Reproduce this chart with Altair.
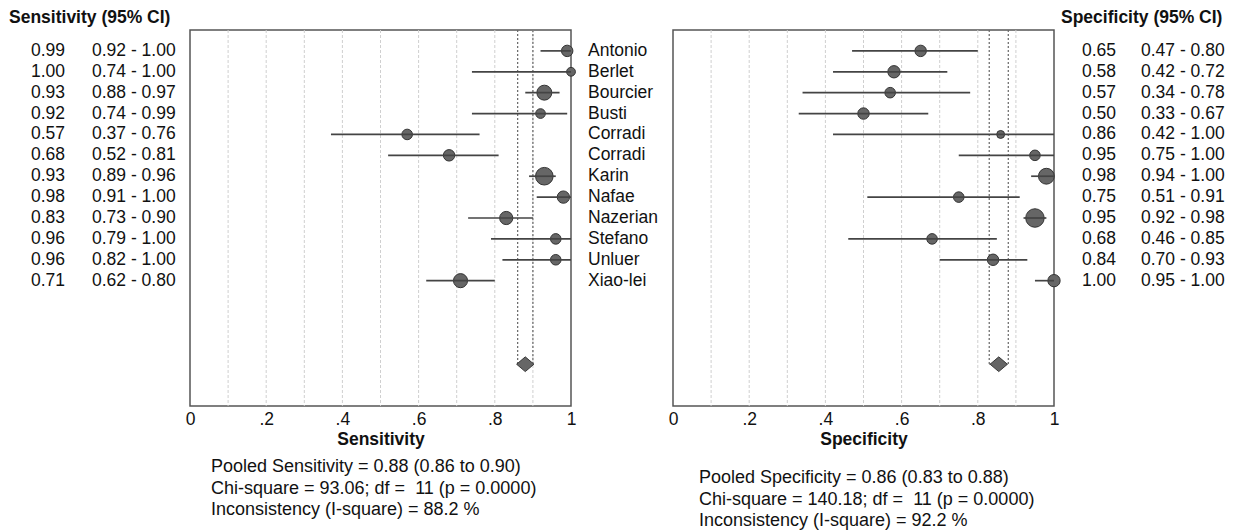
import altair as alt
import pandas as pd

studies = ["Antonio", "Berlet", "Bourcier", "Busti", "Corradi", "Corradi",
           "Karin", "Nafae", "Nazerian", "Stefano", "Unluer", "Xiao-lei"]

sens = [0.99, 1.00, 0.93, 0.92, 0.57, 0.68, 0.93, 0.98, 0.83, 0.96, 0.96, 0.71]
sens_lo = [0.92, 0.74, 0.88, 0.74, 0.37, 0.52, 0.89, 0.91, 0.73, 0.79, 0.82, 0.62]
sens_hi = [1.00, 1.00, 0.97, 0.99, 0.76, 0.81, 0.96, 1.00, 0.90, 1.00, 1.00, 0.80]
sens_weight = [169, 100, 289, 121, 144, 169, 400, 196, 225, 144, 144, 256]

spec = [0.65, 0.58, 0.57, 0.50, 0.86, 0.95, 0.98, 0.75, 0.95, 0.68, 0.84, 1.00]
spec_lo = [0.47, 0.42, 0.34, 0.33, 0.42, 0.75, 0.94, 0.51, 0.92, 0.46, 0.70, 0.95]
spec_hi = [0.80, 0.72, 0.78, 0.67, 1.00, 1.00, 1.00, 0.91, 0.98, 0.85, 0.93, 1.00]
spec_weight = [169, 196, 144, 169, 81, 144, 324, 144, 441, 144, 169, 196]

pooled_sens = [0.88, 0.86, 0.90]
pooled_spec = [0.855, 0.83, 0.88]

grid_values = [0.1, 0.2, 0.3, 0.4, 0.5, 0.6, 0.7, 0.8, 0.9]
tick_values = [0, 0.2, 0.4, 0.6, 0.8, 1]

footer_sens = ["Pooled Sensitivity = 0.88 (0.86 to 0.90)",
               "Chi-square = 93.06; df = \u00a011 (p = 0.0000)",
               "Inconsistency (I-square) = 88.2 %"]
footer_spec = ["Pooled Specificity = 0.86 (0.83 to 0.88)",
               "Chi-square = 140.18; df = \u00a011 (p = 0.0000)",
               "Inconsistency (I-square) = 92.2 %"]

FONT = "Liberation Sans"
W, H = 381, 376
POOLED_ROW = 15

xscale = alt.Scale(domain=[0, 1], nice=False, zero=False)
yscale = alt.Scale(domain=[-1, 17], nice=False, zero=False, reverse=True)


def panel(est, lo, hi, weight, pooled, axis_title, header, footer, side):
    df = pd.DataFrame({
        "study": studies, "est": est, "lo": lo, "hi": hi, "w": weight,
        "row": list(range(len(studies))),
    })
    df["est_txt"] = [f"{v:.2f}" for v in est]
    df["ci_txt"] = [f"{a:.2f} - {b:.2f}" for a, b in zip(lo, hi)]

    xaxis = alt.Axis(values=tick_values, grid=False, domain=False, ticks=False,
                     labelFlush=False,
                     labelExpr="datum.value == 0 ? '0' : datum.value == 1 ? '1' : replace(format(datum.value, '.1f'), '0.', '.')",
                     labelFont=FONT, labelFontSize=17.5, labelColor="#111",
                     labelPadding=4, title=axis_title, titleFont=FONT,
                     titleFontSize=17.5, titleFontWeight="bold", titleColor="#111",
                     titlePadding=3)

    def X(field):
        return alt.X(field, type="quantitative", scale=xscale, axis=xaxis)

    def Y(field):
        return alt.Y(field, type="quantitative", scale=yscale, axis=None)

    gdf = pd.DataFrame({"g": grid_values})
    grid = alt.Chart(gdf).mark_rule(color="#cfcfcf", strokeDash=[3, 2], strokeWidth=1).encode(
        x=X("g"), y=alt.value(0), y2=alt.value(H))

    pdf = pd.DataFrame({"p": pooled[1:], "top": [-1, -1], "row": [POOLED_ROW, POOLED_ROW]})
    pooled_lines = alt.Chart(pdf).mark_rule(color="#666", strokeDash=[2, 2], strokeWidth=1.2).encode(
        x=X("p"), y=Y("top"), y2="row")

    ddf = pd.DataFrame({"est": [pooled[0]], "lo": [pooled[1]], "hi": [pooled[2]], "row": [POOLED_ROW]})
    connector = alt.Chart(ddf).mark_rule(color="#666", strokeDash=[2, 2], strokeWidth=1.2).encode(
        x=X("lo"), x2="hi", y=Y("row"))
    diamond = alt.Chart(ddf).mark_point(
        shape="M-1,0L0,-0.85L1,0L0,0.85Z", filled=True, fill="#666", stroke="#3a3a3a",
        strokeWidth=1, opacity=1, size=300).encode(x=X("est"), y=Y("row"))

    circles = alt.Chart(df).mark_circle(fill="#666", stroke="#333", strokeWidth=1, opacity=1).encode(
        x=X("est"), y=Y("row"),
        size=alt.Size("w:Q", scale=alt.Scale(domain=[0, 400], range=[0, 310]), legend=None))
    ci = alt.Chart(df).mark_rule(color="#444", strokeWidth=1.7).encode(
        x=X("lo"), x2="hi", y=Y("row"))

    if side == "left":
        est_x, ci_x, head_x = -125, -98, -181
    else:
        est_x, ci_x, head_x = 443, 468, 388

    est_text = alt.Chart(df).mark_text(align="right", baseline="middle", font=FONT,
                                       fontSize=17.5, color="#111").encode(
        x=alt.value(est_x), y=Y("row"), text="est_txt:N")
    ci_text = alt.Chart(df).mark_text(align="left", baseline="middle", font=FONT,
                                      fontSize=17.5, color="#111").encode(
        x=alt.value(ci_x), y=Y("row"), text="ci_txt:N")

    hdf = pd.DataFrame({"t": [header]})
    head = alt.Chart(hdf).mark_text(align="left", baseline="middle", font=FONT, fontSize=17.5,
                                    fontWeight="bold", color="#111").encode(
        x=alt.value(head_x), y=alt.value(-12), text="t:N")

    fdf = pd.DataFrame({"t": ["\n".join(footer)]})
    if side == "left":
        fx, fy = 21, 428
    else:
        fx, fy = 26, 439
    foot = alt.Chart(fdf).mark_text(align="left", baseline="top", font=FONT, fontSize=18,
                                    lineBreak="\n", lineHeight=21.5, color="#111").encode(
        x=alt.value(fx), y=alt.value(fy), text="t:N")

    layers = [grid, pooled_lines, connector, circles, ci, diamond, est_text, ci_text, head, foot]
    if side == "left":
        names = alt.Chart(df).mark_text(align="left", baseline="middle", font=FONT,
                                        fontSize=17.5, color="#111").encode(
            x=alt.value(398), y=Y("row"), text="study:N")
        layers.append(names)
    return alt.layer(*layers).properties(width=W, height=H)


left = panel(sens, sens_lo, sens_hi, sens_weight, pooled_sens, "Sensitivity",
             "Sensitivity (95% CI)", footer_sens, "left")
right = panel(spec, spec_lo, spec_hi, spec_weight, pooled_spec, "Specificity",
              "Specificity (95% CI)", footer_spec, "right")

chart = alt.hconcat(left, right, spacing=102, bounds="flush").properties(
    padding=0, background="white"
).configure_view(stroke="#555", strokeWidth=1.5)

chart.save("out.html", embed_options={"renderer": "svg", "actions": False})
